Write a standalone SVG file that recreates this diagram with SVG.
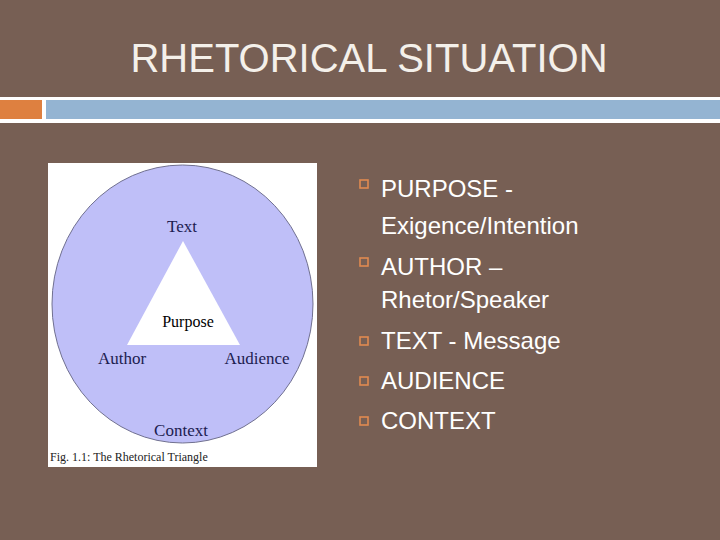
<svg xmlns="http://www.w3.org/2000/svg" width="720" height="540" viewBox="0 0 720 540">
<style>
.t{font-family:"Liberation Serif",serif;fill:#1c1c50;font-size:17px;text-anchor:middle}
.b{font-family:"Liberation Sans",Arial,sans-serif;fill:#fff;font-size:24px}
.sq{fill:none;stroke:#e08a50;stroke-width:1.6}
</style>
<rect width="720" height="540" fill="#775f54"/>
<text x="369" y="72" font-family="Liberation Sans,Arial,sans-serif" font-size="40" fill="#f4f0ea" text-anchor="middle">RHETORICAL SITUATION</text>
<rect x="0" y="97" width="720" height="26" fill="#fff"/>
<rect x="0" y="100" width="42" height="19" fill="#de8040"/>
<rect x="46" y="100" width="674" height="19" fill="#94b4d2"/>
<g id="figure">
<rect x="48" y="163" width="269" height="304" fill="#fff"/>
<ellipse cx="182.5" cy="304" rx="130.5" ry="139" fill="#bfbff8" stroke="#707090" stroke-width="1"/>
<polygon points="183,241 127,345 240,345" fill="#fff"/>
<text class="t" x="182" y="232">Text</text>
<text class="t" x="188" y="327" style="fill:#000;font-size:16px">Purpose</text>
<text class="t" x="122" y="364">Author</text>
<text class="t" x="257" y="364">Audience</text>
<text class="t" x="181" y="436">Context</text>
<text x="50" y="461" font-family="Liberation Serif,serif" font-size="12" fill="#222">Fig. 1.1: The Rhetorical Triangle</text>
</g>
<g id="bullets">
<rect class="sq" x="360" y="180" width="8" height="8"/>
<rect class="sq" x="360" y="258" width="8" height="8"/>
<rect class="sq" x="360" y="337" width="8" height="8"/>
<rect class="sq" x="360" y="377" width="8" height="8"/>
<rect class="sq" x="360" y="417" width="8" height="8"/>
<text class="b" x="381" y="197">PURPOSE -</text>
<text class="b" x="381" y="234">Exigence/Intention</text>
<text class="b" x="381" y="275">AUTHOR –</text>
<text class="b" x="381" y="308">Rhetor/Speaker</text>
<text class="b" x="381" y="349">TEXT - Message</text>
<text class="b" x="381" y="389">AUDIENCE</text>
<text class="b" x="381" y="429">CONTEXT</text>
</g>
</svg>
